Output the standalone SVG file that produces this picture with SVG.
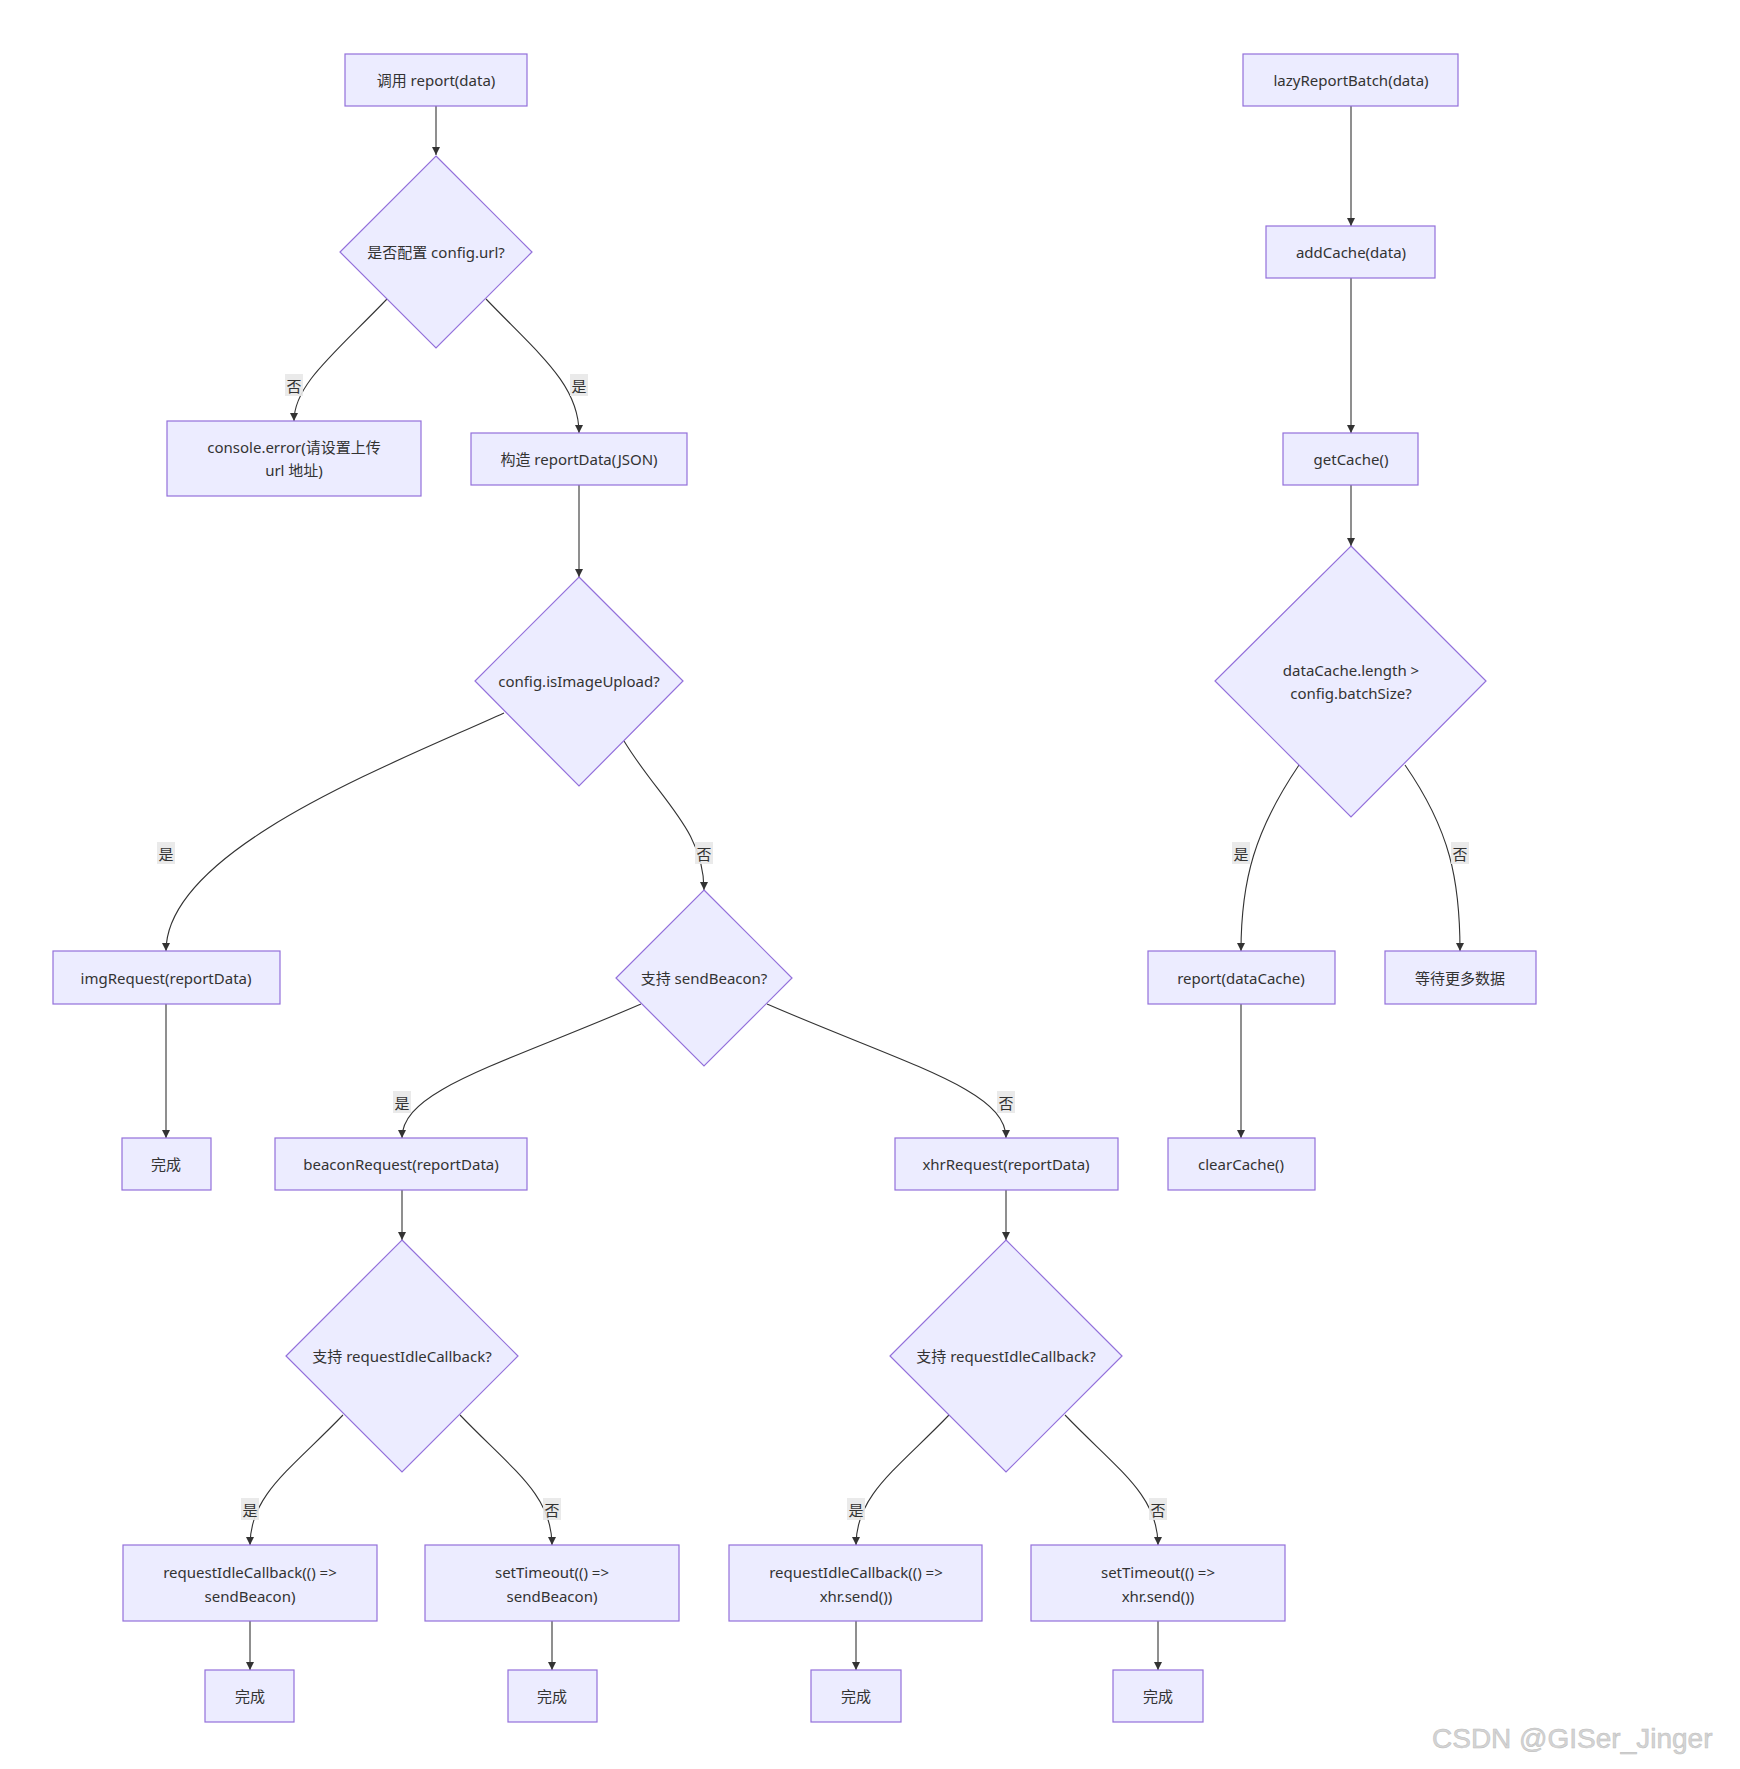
<svg xmlns="http://www.w3.org/2000/svg" width="1740" height="1769" viewBox="0 0 1740 1769">
<defs>
<style>
.n{fill:#ECECFF;stroke:#9370DB;stroke-width:1.2}
.t{font-family:"Noto Sans","Noto Sans CJK SC",sans-serif;font-size:15px;fill:#333;text-anchor:middle;dominant-baseline:central}
.e{fill:none;stroke:#333;stroke-width:1.1;marker-end:url(#arr)}
.lb{fill:#e8e8e8;opacity:0.9}
.lt{font-family:"Noto Sans CJK SC",sans-serif;font-size:15px;fill:#333;text-anchor:middle;dominant-baseline:central}
</style>
<marker id="arr" viewBox="0 0 10 10" refX="10" refY="5" markerWidth="8" markerHeight="8" markerUnits="userSpaceOnUse" orient="auto">
<path d="M0,0 L10,5 L0,10 z" fill="#333"/>
</marker>
</defs>
<rect width="1740" height="1769" fill="#fff"/>

<g id="connectors">
<path class="e" d="M436,106 L436,155"/>
<path class="e" d="M387,299 C333,355 294,385 294,421"/>
<path class="e" d="M486,299 C540,355 579,385 579,433"/>
<path class="e" d="M579,485 L579,577"/>
<path class="e" d="M504,713 C390,765 166,850 166,951"/>
<path class="e" d="M624,741 C660,800 704,830 704,890"/>
<path class="e" d="M166,1004 L166,1138"/>
<path class="e" d="M641,1004 C500,1065 402,1090 402,1138"/>
<path class="e" d="M767,1004 C908,1065 1006,1090 1006,1138"/>
<path class="e" d="M402,1190 L402,1240"/>
<path class="e" d="M1006,1190 L1006,1240"/>
<path class="e" d="M343,1415 C290,1470 250,1495 250,1545"/>
<path class="e" d="M460,1415 C513,1470 552,1495 552,1545"/>
<path class="e" d="M949,1415 C896,1470 856,1495 856,1545"/>
<path class="e" d="M1065,1415 C1118,1470 1158,1495 1158,1545"/>
<path class="e" d="M250,1621 L250,1670"/>
<path class="e" d="M552,1621 L552,1670"/>
<path class="e" d="M856,1621 L856,1670"/>
<path class="e" d="M1158,1621 L1158,1670"/>
<path class="e" d="M1351,106 L1351,226"/>
<path class="e" d="M1351,278 L1351,433"/>
<path class="e" d="M1351,485 L1351,546"/>
<path class="e" d="M1299,765 C1255,830 1241,880 1241,951"/>
<path class="e" d="M1405,765 C1450,830 1460,880 1460,951"/>
<path class="e" d="M1241,1004 L1241,1138"/>
</g>

<g id="edge-labels">
<rect class="lb" x="285" y="374" width="18" height="22"/><text class="lt" x="294" y="385">否</text>
<rect class="lb" x="570" y="374" width="18" height="22"/><text class="lt" x="579" y="385">是</text>
<rect class="lb" x="157" y="842" width="18" height="22"/><text class="lt" x="166" y="853">是</text>
<rect class="lb" x="695" y="842" width="18" height="22"/><text class="lt" x="704" y="853">否</text>
<rect class="lb" x="393" y="1091" width="18" height="22"/><text class="lt" x="402" y="1102">是</text>
<rect class="lb" x="997" y="1091" width="18" height="22"/><text class="lt" x="1006" y="1102">否</text>
<rect class="lb" x="241" y="1498" width="18" height="22"/><text class="lt" x="250" y="1509">是</text>
<rect class="lb" x="543" y="1498" width="18" height="22"/><text class="lt" x="552" y="1509">否</text>
<rect class="lb" x="847" y="1498" width="18" height="22"/><text class="lt" x="856" y="1509">是</text>
<rect class="lb" x="1149" y="1498" width="18" height="22"/><text class="lt" x="1158" y="1509">否</text>
<rect class="lb" x="1232" y="842" width="18" height="22"/><text class="lt" x="1241" y="853">是</text>
<rect class="lb" x="1451" y="842" width="18" height="22"/><text class="lt" x="1460" y="853">否</text>
</g>

<g id="n-start"><rect class="n" x="345" y="54" width="182" height="52"/><text class="t" x="436" y="80">调用 report(data)</text></g>
<g id="n-hasurl"><polygon class="n" points="436,156 532,252 436,348 340,252"/><text class="t" x="436" y="252">是否配置 config.url?</text></g>
<g id="n-error"><rect class="n" x="167" y="421" width="254" height="75"/><text class="t" x="294" y="447">console.error(请设置上传</text><text class="t" x="294" y="470">url 地址)</text></g>
<g id="n-build"><rect class="n" x="471" y="433" width="216" height="52"/><text class="t" x="579" y="459">构造 reportData(JSON)</text></g>
<g id="n-isimg"><polygon class="n" points="579,577 683,681 579,786 475,681"/><text class="t" x="579" y="681">config.isImageUpload?</text></g>
<g id="n-img"><rect class="n" x="53" y="951" width="227" height="53"/><text class="t" x="166" y="978">imgRequest(reportData)</text></g>
<g id="n-done1"><rect class="n" x="122" y="1138" width="89" height="52"/><text class="t" x="166" y="1164">完成</text></g>
<g id="n-beaconq"><polygon class="n" points="704,890 792,978 704,1066 616,978"/><text class="t" x="704" y="978">支持 sendBeacon?</text></g>
<g id="n-beacon"><rect class="n" x="275" y="1138" width="252" height="52"/><text class="t" x="401" y="1164">beaconRequest(reportData)</text></g>
<g id="n-xhr"><rect class="n" x="895" y="1138" width="223" height="52"/><text class="t" x="1006" y="1164">xhrRequest(reportData)</text></g>
<g id="n-idle1"><polygon class="n" points="402,1240 518,1356 402,1472 286,1356"/><text class="t" x="402" y="1356">支持 requestIdleCallback?</text></g>
<g id="n-idle2"><polygon class="n" points="1006,1240 1122,1356 1006,1472 890,1356"/><text class="t" x="1006" y="1356">支持 requestIdleCallback?</text></g>
<g id="n-ric1"><rect class="n" x="123" y="1545" width="254" height="76"/><text class="t" x="250" y="1572">requestIdleCallback(() =&gt;</text><text class="t" x="250" y="1596">sendBeacon)</text></g>
<g id="n-st1"><rect class="n" x="425" y="1545" width="254" height="76"/><text class="t" x="552" y="1572">setTimeout(() =&gt;</text><text class="t" x="552" y="1596">sendBeacon)</text></g>
<g id="n-ric2"><rect class="n" x="729" y="1545" width="253" height="76"/><text class="t" x="856" y="1572">requestIdleCallback(() =&gt;</text><text class="t" x="856" y="1596">xhr.send())</text></g>
<g id="n-st2"><rect class="n" x="1031" y="1545" width="254" height="76"/><text class="t" x="1158" y="1572">setTimeout(() =&gt;</text><text class="t" x="1158" y="1596">xhr.send())</text></g>
<g id="n-done2"><rect class="n" x="205" y="1670" width="89" height="52"/><text class="t" x="250" y="1696">完成</text></g>
<g id="n-done3"><rect class="n" x="508" y="1670" width="89" height="52"/><text class="t" x="552" y="1696">完成</text></g>
<g id="n-done4"><rect class="n" x="811" y="1670" width="90" height="52"/><text class="t" x="856" y="1696">完成</text></g>
<g id="n-done5"><rect class="n" x="1113" y="1670" width="90" height="52"/><text class="t" x="1158" y="1696">完成</text></g>

<g id="n-lazy"><rect class="n" x="1243" y="54" width="215" height="52"/><text class="t" x="1351" y="80">lazyReportBatch(data)</text></g>
<g id="n-add"><rect class="n" x="1266" y="226" width="169" height="52"/><text class="t" x="1351" y="252">addCache(data)</text></g>
<g id="n-get"><rect class="n" x="1283" y="433" width="135" height="52"/><text class="t" x="1351" y="459">getCache()</text></g>
<g id="n-size"><polygon class="n" points="1351,546 1486,681 1351,817 1215,681"/><text class="t" x="1351" y="670">dataCache.length &gt;</text><text class="t" x="1351" y="693">config.batchSize?</text></g>
<g id="n-report"><rect class="n" x="1148" y="951" width="187" height="53"/><text class="t" x="1241" y="978">report(dataCache)</text></g>
<g id="n-wait"><rect class="n" x="1385" y="951" width="151" height="53"/><text class="t" x="1460" y="978">等待更多数据</text></g>
<g id="n-clear"><rect class="n" x="1168" y="1138" width="147" height="52"/><text class="t" x="1241" y="1164">clearCache()</text></g>

<text x="1432" y="1748" font-family="'Liberation Sans',sans-serif" font-size="28" fill="#d4d4d4" stroke="#bdbdbd" stroke-width="0.5">CSDN @GISer_Jinger</text>
</svg>
